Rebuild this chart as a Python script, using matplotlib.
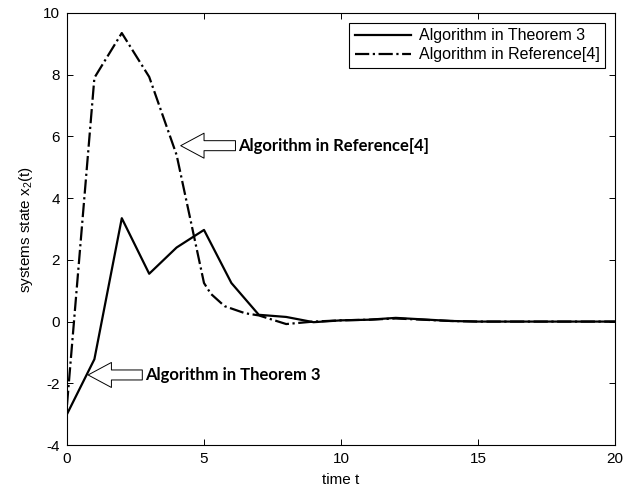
import matplotlib
matplotlib.use("Agg")
import matplotlib.pyplot as plt

plt.rcParams['font.family'] = ['Liberation Sans', 'DejaVu Sans']
plt.rcParams['mathtext.default'] = 'regular'
plt.rcParams['axes.unicode_minus'] = False

# data
t_thm = [0, 1, 2, 3, 4, 5, 6, 7, 8, 9, 10, 11, 12, 13, 14, 15, 16, 17, 18, 19, 20]
x2_thm = [-3.0, -1.22, 3.35, 1.55, 2.4, 2.97, 1.25, 0.22, 0.15, -0.02, 0.04,
          0.06, 0.12, 0.07, 0.02, 0.0, 0.0, 0.0, 0.0, 0.0, 0.0]

t_ref = [0, 1, 2, 3, 4, 5, 5.25, 5.75, 6.5, 7, 8, 9, 10, 11, 12, 13, 14,
         15, 16, 17, 18, 19, 20]
x2_ref = [-2.7, 7.9, 9.35, 7.93, 5.4, 1.25, 0.9, 0.5, 0.27, 0.2, -0.08, 0.0,
          0.04, 0.06, 0.1, 0.06, 0.02, 0.0, 0.0, 0.0, 0.0, 0.0, 0.0]

label_thm = 'Algorithm in Theorem 3'
label_ref = 'Algorithm in Reference[4]'

fig = plt.figure(figsize=(6.35, 4.9), dpi=100)
ax = fig.add_axes([0.1055, 0.0918, 0.863, 0.8817])

ax.plot(t_thm, x2_thm, color='black', lw=1.6, ls='-', label=label_thm)
ax.plot(t_ref, x2_ref, color='black', lw=1.6, ls='-.', label=label_ref)

ax.set_xlim(0, 20)
ax.set_ylim(-4, 10)
ax.set_xticks([0, 5, 10, 15, 20])
ax.set_yticks([-4, -2, 0, 2, 4, 6, 8, 10])
ax.tick_params(direction='in', top=True, right=True, labelsize=11, length=4,
               width=0.7, pad=5)
for sp in ax.spines.values():
    sp.set_linewidth(0.8)

ax.set_xlabel('time t', fontsize=11, labelpad=5)
ax.set_ylabel('systems state x$_2$(t)', fontsize=11, labelpad=6)

leg = ax.legend(loc='upper right', fontsize=11.5, fancybox=False, framealpha=1,
                edgecolor='black', borderaxespad=0.6, handlelength=3.5,
                borderpad=0.35, labelspacing=0.25, handletextpad=0.5)
leg.get_frame().set_linewidth(0.8)

# hollow block arrows with bold captions
arrow = dict(arrowstyle='simple,head_length=1.4,head_width=1.5,tail_width=0.6',
             fc='white', ec='black', lw=0.7, shrinkA=0, shrinkB=0)
ax.annotate(label_ref, xy=(4.15, 5.7), xytext=(6.25, 5.7), fontsize=12,
            fontweight='bold', family='Lato', va='center', ha='left',
            arrowprops=arrow)
ax.annotate(label_thm, xy=(0.77, -1.73), xytext=(2.85, -1.73), fontsize=12,
            fontweight='bold', family='Lato', va='center', ha='left',
            arrowprops=arrow)

fig.savefig('out.png', dpi=100)
